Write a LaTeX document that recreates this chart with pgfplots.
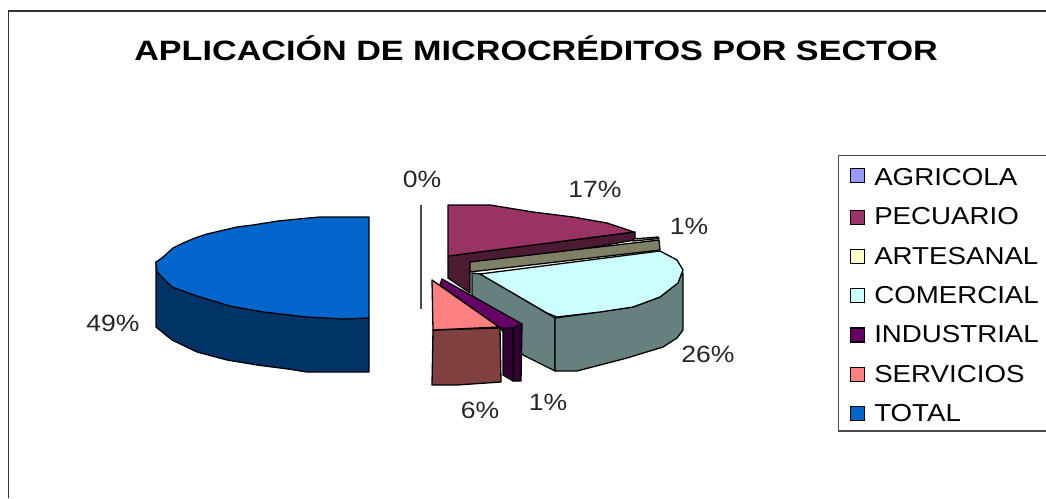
\documentclass[border=0pt]{standalone}
\usepackage{fontspec}
\setmainfont[FakeStretch=1.13]{Liberation Sans}
\newfontfamily\titlefont[FakeStretch=1.22]{Liberation Sans Bold}
\usepackage{pgfplots}
\pgfplotsset{compat=1.18}
\definecolor{cAgr}{HTML}{9999FF}
\definecolor{cPec}{HTML}{993366}
\definecolor{cPecD}{HTML}{4D1A33}
\definecolor{cArt}{HTML}{FFFFCC}
\definecolor{cArtD}{HTML}{808066}
\definecolor{cCom}{HTML}{CCFFFF}
\definecolor{cComD}{HTML}{668080}
\definecolor{cInd}{HTML}{660066}
\definecolor{cIndD}{HTML}{330033}
\definecolor{cSer}{HTML}{FF8080}
\definecolor{cSerD}{HTML}{804040}
\definecolor{cTot}{HTML}{0066CC}
\definecolor{cTotD}{HTML}{003366}
\pgfplotsset{face/.style={forget plot,draw=black,line width=1.3pt,line join=round,fill=#1}}
\begin{document}
\begin{tikzpicture}[x=1pt,y=1pt]
\path[use as bounding box] (0,0) rectangle (1046,498);
\begin{axis}[
  at={(0,0)},anchor=south west,
  width=1046pt,height=498pt,scale only axis,
  xmin=0,xmax=1046,ymin=0,ymax=498,y dir=reverse,
  hide axis,clip=false,
  legend cell align=left,
  legend style={at={(axis cs:838,155)},anchor=north west,draw=black!70,line width=1.3pt,
    font=\fontsize{24.5}{24.5}\selectfont,row sep=16.7pt,inner xsep=11pt,inner ysep=6pt},
  legend image code/.code={\draw[#1,line width=1.2pt] (0pt,-7pt) rectangle (14pt,7pt);\path[draw=none,fill=none] (0pt,0pt) -- (22pt,0pt);},
]
% chart frame
\addplot[forget plot,draw=black!80,line width=1.4pt] coordinates {(8.5,498) (8.5,11) (1046,11)};
% 0% leader line
\addplot[forget plot,draw=black!70,line width=1.5pt] coordinates {(421,205) (421,309)};
% TOTAL
\addplot[face=cTotD] coordinates {(156,262) (156,327) (172,340) (197,352) (227,360) (257,365) (288,369) (307,372) (369,372) (369,318) (156,272)} -- cycle;
\addplot[face=cTot] coordinates {(369,217) (320,217) (298,219) (278,221) (253,225) (237,227) (220,231) (207,234) (195,238) (183,243) (173,248) (162,258) (156,262) (157,272) (172,287) (197,296) (230,306) (263,312) (307,317) (343,319) (369,318)} -- cycle;
% PECUARIO
\addplot[face=cPecD] coordinates {(448,256) (635,232) (635,240) (470,268) (470,293) (448,278)} -- cycle;
\addplot[face=cPec] coordinates {(448,205) (490,205) (533,212) (573,217) (607,223) (634,232) (448,256)} -- cycle;
% ARTESANAL
\addplot[face=cArt] coordinates {(633,239) (658,237) (659,238.5) (633,241)} -- cycle;
\addplot[face=cArtD] coordinates {(470,262) (659,240) (660,250) (470,272)} -- cycle;
% COMERCIAL
\addplot[face=cComD] coordinates {(472,273) (481,274) (555,318) (555,371) (523,355) (472,295)} -- cycle;
\addplot[face=cComD] coordinates {(555,318) (555,371) (577,371) (627,358) (663,347) (677,338) (683,330) (683,273) (660,297) (633,307) (577,315)} -- cycle;
\addplot[face=cCom] coordinates {(660,251) (677,260) (683,270) (678,283) (660,297) (633,307) (600,312) (557,317) (547,313) (480,274)} -- cycle;
% INDUSTRIAL
\addplot[face=cIndD] coordinates {(503,327) (513,327) (513,381) (503,375)} -- cycle;
\addplot[face=cIndD] coordinates {(513,327) (522,324) (521,381) (513,381)} -- cycle;
\addplot[face=cInd] coordinates {(440,285) (442,279) (522,324) (513,328) (500,328)} -- cycle;
% SERVICIOS
\addplot[face=cSerD] coordinates {(433,330) (500,328) (501,382) (457,385) (432,385)} -- cycle;
\addplot[face=cSer] coordinates {(432,280) (499,327) (433,330)} -- cycle;
% legend
\addlegendimage{draw=black,fill=cAgr}\addlegendentry{\rule{0pt}{22pt}AGRICOLA}
\addlegendimage{draw=black,fill=cPec}\addlegendentry{PECUARIO}
\addlegendimage{draw=black,fill=cArt}\addlegendentry{ARTESANAL}
\addlegendimage{draw=black,fill=cCom}\addlegendentry{COMERCIAL}
\addlegendimage{draw=black,fill=cInd}\addlegendentry{INDUSTRIAL}
\addlegendimage{draw=black,fill=cSer}\addlegendentry{SERVICIOS}
\addlegendimage{draw=black,fill=cTot}\addlegendentry{\makebox[190pt][l]{TOTAL}}
% texts
\node[font=\fontsize{28}{28}\selectfont\titlefont] at (axis cs:536,48) {APLICACIÓN DE MICROCRÉDITOS POR SECTOR};
\begin{scope}[every node/.style={font=\fontsize{23.5}{23.5}\selectfont,text=black!85}]
\node at (axis cs:422,179) {0\%};
\node at (axis cs:595,189) {17\%};
\node at (axis cs:689,226) {1\%};
\node at (axis cs:708,354) {26\%};
\node at (axis cs:548,402) {1\%};
\node at (axis cs:480,410) {6\%};
\node at (axis cs:113,323) {49\%};
\end{scope}
\end{axis}
\end{tikzpicture}
\end{document}
